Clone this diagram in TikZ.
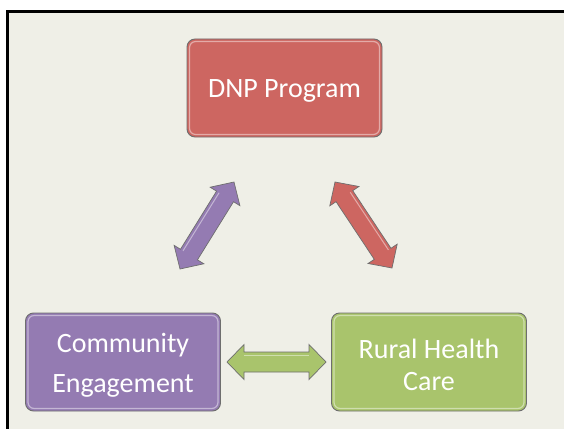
\documentclass[tikz,border=0pt]{standalone}
\usepackage{fontspec}
\setmainfont{Carlito}
\usetikzlibrary{calc}
\definecolor{bgc}{HTML}{EFEFE7}
\definecolor{redc}{HTML}{CD6661}
\definecolor{purc}{HTML}{947BB2}
\definecolor{grnc}{HTML}{A9C46C}
\definecolor{edgec}{HTML}{6E6E6E}
\tikzset{
  boxsty/.style={draw=edgec, line width=0.9pt, rounded corners=8pt,
    minimum width=195pt, minimum height=98pt, inner sep=0pt},
  txtsty/.style={text=white, align=center, inner sep=0pt, yshift=-3pt,
    font=\fontsize{28}{40}\selectfont},
  arrowsty/.style={draw=edgec, line width=0.7pt, line join=miter},
  glosssty/.style={draw=white, opacity=0.45, line width=1.2pt, rounded corners=6pt},
}
\newcommand\dbarrow[3]{%
  \path ($(#1)!17pt!(#2)$) coordinate (#1p) ($(#2)!17pt!(#1)$) coordinate (#2p);
  \draw[arrowsty, fill=#3] (#1) -- ($(#1p)!17.5pt!90:(#2)$) -- ($(#1p)!10pt!90:(#2)$)
    -- ($(#2p)!10pt!-90:(#1)$) -- ($(#2p)!17.5pt!-90:(#1)$) -- (#2)
    -- ($(#2p)!17.5pt!90:(#1)$) -- ($(#2p)!10pt!90:(#1)$)
    -- ($(#1p)!10pt!-90:(#2)$) -- ($(#1p)!17.5pt!-90:(#2)$) -- cycle;
  \draw[white, opacity=0.45, line width=1pt] ($(#1p)!7pt!90:(#2)$) -- ($(#2p)!7pt!-90:(#1)$);
}
\begin{document}
\begin{tikzpicture}[x=1pt,y=-1pt]
\useasboundingbox (0,0) rectangle (564,428);
\clip (0,0) rectangle (564,428);
\fill[white] (0,0) rectangle (564,428);
\fill[bgc] (7,12) rectangle (580,440);
\draw[black, line width=3pt] (7,440) -- (7,12) -- (580,12);

\node[boxsty, fill=redc] (dnp) at (284.5,88) {};
\node[boxsty, fill=purc] (comm) at (123,362) {};
\node[boxsty, fill=grnc] (rural) at (429,362) {};

\foreach \n in {dnp,comm,rural}{
  \draw[glosssty] ([shift={(3,3)}]\n.north west) rectangle ([shift={(-3,-3)}]\n.south east);
}

\node[txtsty] (dnptxt) at (dnp.center) {DNP Program};
\node[txtsty] (commtxt) at (comm.center) {Community\\Engagement};
\node[txtsty, font=\fontsize{28}{32}\selectfont] (ruraltxt) at (rural.center) {Rural Health\\Care};

\coordinate (ga) at (227,362);
\coordinate (gb) at (326,362);
\coordinate (pa) at (180,269);
\coordinate (pb) at (234,182);
\coordinate (ra) at (335,182);
\coordinate (rb) at (392,268);

\dbarrow{ga}{gb}{grnc}
\dbarrow{pa}{pb}{purc}
\dbarrow{ra}{rb}{redc}
\end{tikzpicture}
\end{document}
